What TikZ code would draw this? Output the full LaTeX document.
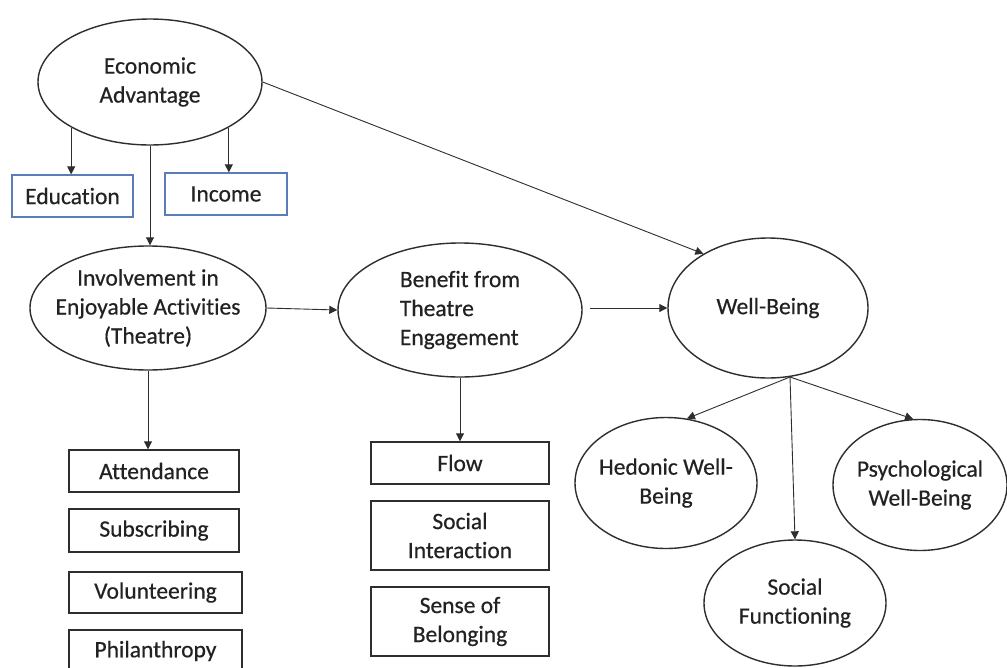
\documentclass[tikz,border=0pt]{standalone}
\usepackage{fontspec}
\setmainfont{Carlito}[Ligatures=NoCommon,FakeBold=0.5]
\usetikzlibrary{shapes.geometric,arrows.meta,calc}
\definecolor{boxblue}{HTML}{5A7DBA}
\definecolor{linegray}{HTML}{2E2E2E}
\definecolor{txtgray}{HTML}{222222}
\begin{document}
\begin{tikzpicture}[x=1pt,y=-1pt,
  every node/.style={font=\fontsize{23.5}{29}\selectfont, text=txtgray},
  ell/.style={draw=linegray, line width=1.4pt, ellipse, align=center, inner sep=-40pt},
  box/.style={draw=linegray, line width=1.4pt, rectangle, align=center, inner sep=0pt},
  bluebox/.style={draw=boxblue, line width=1.3pt, rectangle, align=center, inner sep=0pt},
  arr/.style={draw=linegray, line width=0.9pt, -{Triangle[length=8pt,width=8pt]}}]
\useasboundingbox (0,0) rectangle (1007,667);
\fill[white] (0,0) rectangle (1007,667);
% ellipses
\node[ell, minimum width=224pt, minimum height=126pt] (eco) at (150,82) {Economic\\Advantage};
\node[ell, minimum width=236pt, minimum height=124pt] (inv) at (148,308) {Involvement in\\Enjoyable Activities\\(Theatre)};
\node[ell, minimum width=244pt, minimum height=134pt, align=left] (ben) at (460,310) {Benefit from\\Theatre\\Engagement};
\node[ell, minimum width=200pt, minimum height=140pt] (wb) at (768,308) {Well-Being};
\node[ell, minimum width=182pt, minimum height=131pt] (hed) at (666,483) {Hedonic Well-\\Being};
\node[ell, minimum width=174pt, minimum height=131pt] (psy) at (920,485) {Psychological\\Well-Being};
\node[ell, minimum width=182pt, minimum height=126pt] (sf) at (795,603) {Social\\Functioning};
% boxes
\node[bluebox, minimum width=121pt, minimum height=42pt] (edu) at (72.5,196) {Education};
\node[bluebox, minimum width=122pt, minimum height=42pt] (inc) at (226,194) {Income};
\node[box, minimum width=170pt, minimum height=42pt] (att) at (154,471) {Attendance};
\node[box, minimum width=170pt, minimum height=43pt] (sub) at (154,530.5) {Subscribing};
\node[box, minimum width=173pt, minimum height=41pt] (vol) at (155.5,592.5) {Volunteering};
\node[box, minimum width=173pt, minimum height=42pt] (phi) at (155.5,651) {Philanthropy};
\node[box, minimum width=178pt, minimum height=42pt] (flow) at (460,463) {Flow};
\node[box, minimum width=178pt, minimum height=69pt] (soc) at (460,535.5) {Social\\Interaction};
\node[box, minimum width=178pt, minimum height=69pt] (sob) at (460,621.5) {Sense of\\Belonging};
% connectors
\coordinate (wbo) at (790,377);
\coordinate (bstart) at (590,308);
\draw[arr] (eco.-150) -- (eco.-150 |- edu.north);
\draw[arr] (eco.-30) -- (eco.-30 |- inc.north);
\draw[arr] (eco.south) -- (eco.south |- inv.north);
\draw[arr] (eco.east) -- (wb.140);
\draw[arr] (inv.east) -- (ben.west);
\draw[arr] (bstart) -- (wb.west);
\draw[arr] (inv.south) -- (inv.south |- att.north);
\draw[arr] (ben.south) -- (flow.north);
\draw[arr] (wbo) -- (hed.72);
\draw[arr] (wbo) -- (sf.north);
\draw[arr] (wbo) -- (psy.96);
\end{tikzpicture}
\end{document}
